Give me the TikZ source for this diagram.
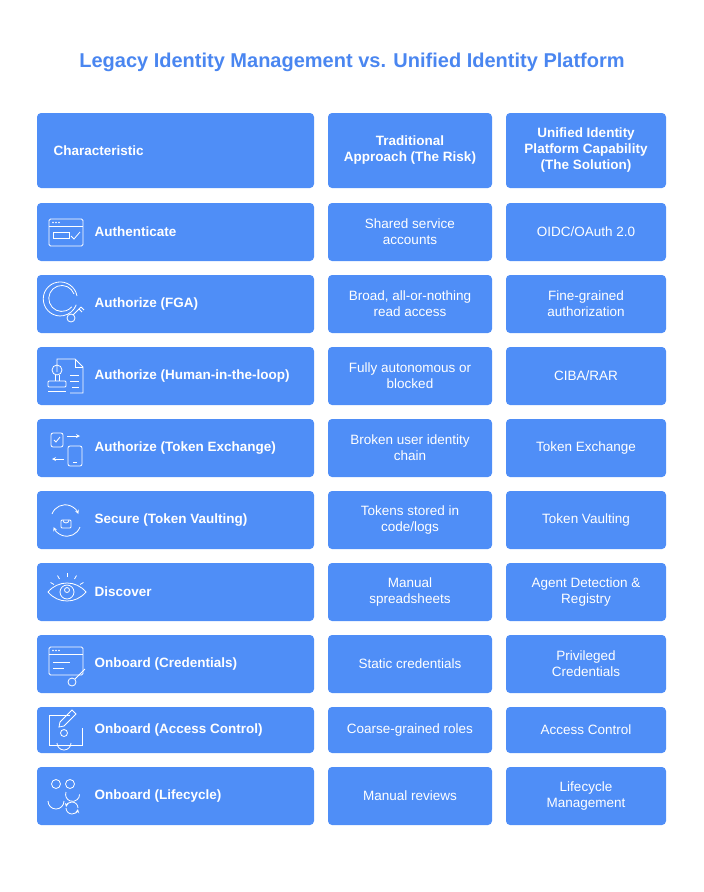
\documentclass[tikz,border=0pt]{standalone}
\usepackage{fontspec}
\setmainfont{Liberation Sans}
\usetikzlibrary{calc}
\definecolor{boxc}{HTML}{4F8EF7}
\definecolor{titc}{HTML}{4A86F0}
\begin{document}
\begin{tikzpicture}[x=1pt,y=-1pt,
  cell/.style={fill=boxc,rounded corners=4pt},
  txt/.style={text=white,font=\fontsize{13.5}{16}\selectfont,align=center},
  btxt/.style={text=white,font=\fontsize{13.5}{16}\selectfont\bfseries,align=center},
  ic/.style={draw=white,line width=0.8pt}]
\useasboundingbox (0,0) rectangle (704,892);
\node[text=titc,font=\fontsize{20}{24}\selectfont\bfseries] (title) at (352,62) {Legacy Identity Management vs. Unified Identity Platform};
% header
\fill[cell] (37,113) rectangle (314,188);
\fill[cell] (328,113) rectangle (492,188);
\fill[cell] (506,113) rectangle (666,188);
\node[btxt,anchor=west] (h1) at (50,150.5) {Characteristic};
\node[btxt] (h2) at (410,150.5) {Traditional\\Approach (The Risk)};
\node[btxt] (h3) at (586,150.5) {Unified Identity\\Platform Capability\\(The Solution)};
% rows
\foreach \t/\b/\c/\lab/\mid/\rig [count=\i] in {
203/261/232/Authenticate/{Shared service\\accounts}/{OIDC/OAuth 2.0},
275/333/304/Authorize (FGA)/{Broad, all-or-nothing\\read access}/{Fine-grained\\authorization},
347/405/376/Authorize (Human-in-the-loop)/{Fully autonomous or\\blocked}/{CIBA/RAR},
419/477/448/Authorize (Token Exchange)/{Broken user identity\\chain}/{Token Exchange},
491/549/520/Secure (Token Vaulting)/{Tokens stored in\\code/logs}/{Token Vaulting},
563/621/592/Discover/{Manual\\spreadsheets}/{Agent Detection \&\\Registry},
635/693/664/Onboard (Credentials)/{Static credentials}/{Privileged\\Credentials},
707/753/730/Onboard (Access Control)/{Coarse-grained roles}/{Access Control},
767/825/796/Onboard (Lifecycle)/{Manual reviews}/{Lifecycle\\Management}}{
  \fill[cell] (37,\t) rectangle (314,\b);
  \fill[cell] (328,\t) rectangle (492,\b);
  \fill[cell] (506,\t) rectangle (666,\b);
  \node[btxt,anchor=west] (a\i) at (91,\c) {\lab};
  \node[txt] (b\i) at (410,\c) {\mid};
  \node[txt] (c\i) at (586,\c) {\rig};
}
% icons
% 1 authenticate: window
\draw[ic,rounded corners=1.5pt] (49,219) rectangle (83,246);
\draw[ic] (49,226)--(83,226);
\foreach \x in {53,56,59} \fill[white] (\x,222.5) circle (0.8);
\draw[ic] (53,232) rectangle (69,238);
\draw[ic] (71,236)--(74,239)--(80,232);
% 2 FGA: arc + key
\draw[ic] (74,294) arc (-20:-320:13);
\draw[ic] (77,296) arc (-10:-340:17);
\draw[ic] (71,318) circle (4);
\draw[ic] (73,315)--(81,307) (79,309)--(82,312) (81,307)--(84,310);
% 3 HITL: document + stamp
\draw[ic] (57,372)--(57,359)--(75,359)--(83,367)--(83,393)--(70,393);
\draw[ic] (75,359)--(75,367)--(83,367);
\draw[ic] (70,375)--(79,375) (70,381)--(79,381) (72,387)--(79,387);
\draw[ic] (57,370) circle (5);
\draw[ic] (55,375)--(55,381) (59,375)--(59,381);
\draw[ic,rounded corners=1pt] (48,381) rectangle (66,387);
\draw[ic] (48,391)--(66,391);
% 4 token exchange: two phones + arrows
\draw[ic,rounded corners=2pt] (51,433) rectangle (63,447);
\draw[ic] (54,440)--(56,442)--(60,437);
\draw[ic,rounded corners=2pt] (68,446) rectangle (82,466);
\draw[ic] (73,462)--(77,462);
\draw[ic,->,>=stealth] (67,436)--(80,436);
\draw[ic,<-,>=stealth] (52,459)--(64,459);
% 5 vault: circular arrows + lock
\draw[ic,->,>=stealth] (52,514) arc (200:340:14);
\draw[ic,->,>=stealth] (80,527) arc (20:160:14);
\draw[ic,rounded corners=1pt] (61,520) rectangle (71,528);
\draw[ic] (63,520) arc (180:0:3);
% 6 discover: eye
\draw[ic] (48,592) .. controls (58,580) and (76,580) .. (86,592) .. controls (76,604) and (58,604) .. (48,592);
\draw[ic] (67,592) circle (7);
\draw[ic] (67,590) circle (2.5);
\foreach \a in {30,60,90,120,150} \draw[ic] ($(67,592)+(\a:-15)$)--($(67,592)+(\a:-19)$);
% 7 credentials: window + pen
\draw[ic,rounded corners=1.5pt] (49,647) rectangle (83,675);
\draw[ic] (49,654)--(83,654);
\foreach \x in {53,56,59} \fill[white] (\x,650.5) circle (0.8);
\draw[ic] (53,662)--(70,662) (53,668)--(64,668);
\draw[ic] (72,682) circle (4);
\draw[ic] (75,679)--(85,669);
% 8 access control: frame + person + pen
\draw[ic] (70,715)--(49,715)--(49,745)--(82,745)--(82,728);
\draw[ic] (64,733) circle (3.5);
\draw[ic] (57,743) arc (180:0:7);
\draw[ic] (60,722)--(72,710)--(76,714)--(64,726)--(59,727)--cycle;
% 9 lifecycle: two people + arrows
\draw[ic] (56,784) circle (4.5);
\draw[ic] (48,801) arc (180:0:8);
\draw[ic] (70,784) circle (4.5);
\draw[ic] (66,792) arc (200:0:7);
\draw[ic,->,>=stealth] (66,808) arc (180:10:6);
\draw[ic,->,>=stealth] (78,808) arc (0:-170:6);
\end{tikzpicture}
\end{document}
